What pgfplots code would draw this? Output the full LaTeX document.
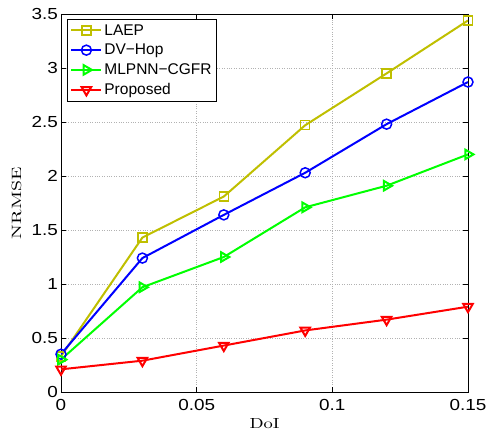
\documentclass[border=0pt]{standalone}
\usepackage{fontspec}
\setsansfont{Liberation Sans}
\newfontfamily\tickfont{Liberation Sans}[FakeStretch=1.18]
\usepackage{graphicx}
\usepackage{pgfplots}
\pgfplotsset{compat=1.18}
\usetikzlibrary{calc}
\definecolor{laep}{rgb}{0.75,0.75,0}
\begin{document}
\begin{tikzpicture}
\begin{axis}[
  name=ax,
  scale only axis,
  width=407pt, height=378pt,
  xmin=0, xmax=0.15, ymin=0, ymax=3.5,
  xtick={0,0.05,0.1,0.15},
  ytick={0,0.5,1,1.5,2,2.5,3,3.5},
  xticklabels={0,0.05,0.1,0.15},
  yticklabels={0,0.5,1,1.5,2,2.5,3,3.5},
  tick align=inside,
  tick pos=both,
  major tick length=5pt,
  grid=major,
  grid style={dotted, gray!60, line width=0.6pt},
  axis line style={line width=0.9pt},
  tick style={line width=0.6pt, black},
  ticklabel style={font=\fontsize{16}{18}\selectfont\tickfont},
  yticklabel style={inner sep=1pt, xshift=-2pt},
  xticklabel style={inner sep=1pt, yshift=-6pt},
  xlabel={\resizebox{30pt}{10pt}{DoI}},
  ylabel={\resizebox{72pt}{9.5pt}{NRMSE}},
  xlabel style={at={([yshift=-32pt]axis description cs:0.5,0)}, anchor=center, inner sep=1pt},
  ylabel style={at={([xshift=-44.5pt]axis description cs:0,0.5)}, anchor=center, inner sep=1pt},
  legend cell align=left,
  legend style={font=\fontsize{15.5}{17}\selectfont\sffamily, draw=black, line width=0.8pt, inner xsep=3pt, inner ysep=3pt, row sep=3.5pt, at={([xshift=6pt,yshift=-5pt]rel axis cs:0,1)}, anchor=north west},
  legend image code/.code={\draw[mark repeat=2,mark phase=2] plot coordinates {(0pt,0pt) (15pt,0pt) (30pt,0pt)};},
  every axis plot/.append style={line width=2pt, mark size=5.5pt, mark options={solid, line width=1.5pt, fill=none}},
]
\addplot[color=laep, mark=square, mark size=4.5pt] coordinates {(0,0.33) (0.03,1.43) (0.06,1.81) (0.09,2.47) (0.12,2.95) (0.15,3.44)};
\addlegendentry{LAEP}
\addplot[color=blue, mark=o, mark size=5pt] coordinates {(0,0.35) (0.03,1.24) (0.06,1.64) (0.09,2.03) (0.12,2.48) (0.15,2.87)};
\addlegendentry{DV−Hop}
\addplot[color=green, mark=triangle, mark options={rotate=-90}] coordinates {(0,0.30) (0.03,0.97) (0.06,1.25) (0.09,1.71) (0.12,1.91) (0.15,2.20)};
\addlegendentry{MLPNN−CGFR}
\addplot[color=red, mark=triangle, mark options={rotate=180}] coordinates {(0,0.21) (0.03,0.29) (0.06,0.43) (0.09,0.57) (0.12,0.67) (0.15,0.79)};
\addlegendentry{Proposed}
\end{axis}
\pgfresetboundingbox
\path[use as bounding box] ($(ax.south west)+(-61pt,-44pt)$) rectangle ($(ax.north east)+(19pt,14pt)$);
\end{tikzpicture}
\end{document}
